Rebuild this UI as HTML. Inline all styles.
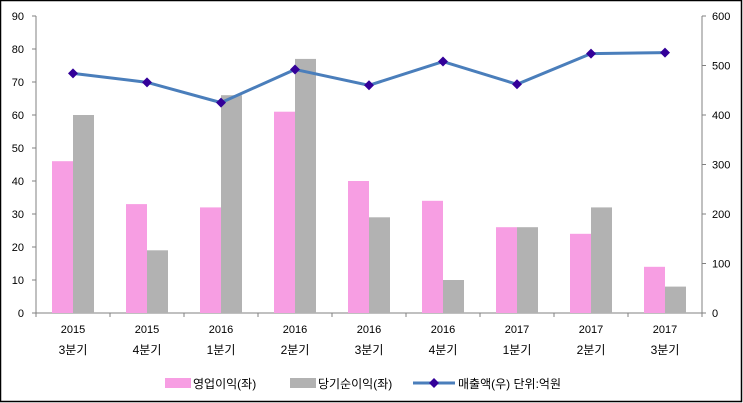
<!DOCTYPE html>
<html><head><meta charset="utf-8"><style>
body{margin:0;background:#fff}
svg{display:block;font-family:"Liberation Sans","Noto Sans CJK KR",sans-serif}
</style></head><body>
<svg width="743" height="403" viewBox="0 0 743 403">
<rect x="0.5" y="0.5" width="741" height="401" fill="#fff" stroke="#000" stroke-width="1.5"/>
<g stroke="#808080" stroke-width="1" fill="none">
<line x1="36" y1="16" x2="36" y2="313"/>
<line x1="702" y1="16" x2="702" y2="313"/>
<line x1="32" y1="313" x2="706" y2="313"/>
</g>
<script>
var s="http://www.w3.org/2000/svg";
var svg=document.querySelector('svg');
function el(t,a,txt){var e=document.createElementNS(s,t);for(var k in a)e.setAttribute(k,a[k]);if(txt!=null)e.textContent=String(txt);svg.appendChild(e);return e;}
var x0=36,cw=(702-36)/9,y0=313,ppu=297/90;
var pink=[46,33,32,61,40,34,26,24,14],gray=[60,19,66,77,29,10,26,32,8];
var line=[484,466,425,492,460,508,462,524,526];
var yrs=["2015","2015","2016","2016","2016","2016","2017","2017","2017"];
var qs=["3분기","4분기","1분기","2분기","3분기","4분기","1분기","2분기","3분기"];
for(var i=0;i<9;i++){var c=x0+cw*(i+0.5);
el('rect',{x:c-21,y:y0-pink[i]*ppu,width:21,height:pink[i]*ppu,fill:'#f79ee3'});
el('rect',{x:c,y:y0-gray[i]*ppu,width:21,height:gray[i]*ppu,fill:'#b2b2b2'});
el('text',{x:c,y:333,'text-anchor':'middle','font-size':11},yrs[i]);
el('text',{x:c,y:354,'text-anchor':'middle','font-size':12},qs[i]);}
for(var i=0;i<=9;i++){el('line',{x1:x0+cw*i,y1:313,x2:x0+cw*i,y2:317,stroke:'#808080'});}
for(var v=0;v<=90;v+=10){var y=y0-v*ppu;el('line',{x1:32,y1:y,x2:36,y2:y,stroke:'#808080'});el('text',{x:24,y:y+4,'text-anchor':'end','font-size':11},v);}
for(var v=0;v<=600;v+=100){var y=y0-v/600*297;el('line',{x1:702,y1:y,x2:706,y2:y,stroke:'#808080'});el('text',{x:712,y:y+4,'font-size':11},v);}
var pts=line.map(function(v,i){return (x0+cw*(i+0.5))+','+(y0-v/600*297)}).join(' ');
el('polyline',{points:pts,fill:'none',stroke:'#4a7ebb','stroke-width':3});
line.forEach(function(v,i){var cx=x0+cw*(i+0.5),cy=y0-v/600*297;el('polygon',{points:cx+','+(cy-5)+' '+(cx+5)+','+cy+' '+cx+','+(cy+5)+' '+(cx-5)+','+cy,fill:'#330099'});});
el('rect',{x:165,y:378,width:26,height:10,fill:'#f79ee3'});
el('text',{x:193,y:388,'font-size':12},'영업이익(좌)');
el('rect',{x:290,y:378,width:26,height:10,fill:'#b2b2b2'});
el('text',{x:318,y:388,'font-size':12},'당기순이익(좌)');
el('line',{x1:413,y1:383,x2:455,y2:383,stroke:'#4a7ebb','stroke-width':3});
el('polygon',{points:'434,378 439,383 434,388 429,383',fill:'#330099'});
el('text',{x:458,y:388,'font-size':12},'매출액(우)  단위:억원');
</script>
</svg>
</body></html>
